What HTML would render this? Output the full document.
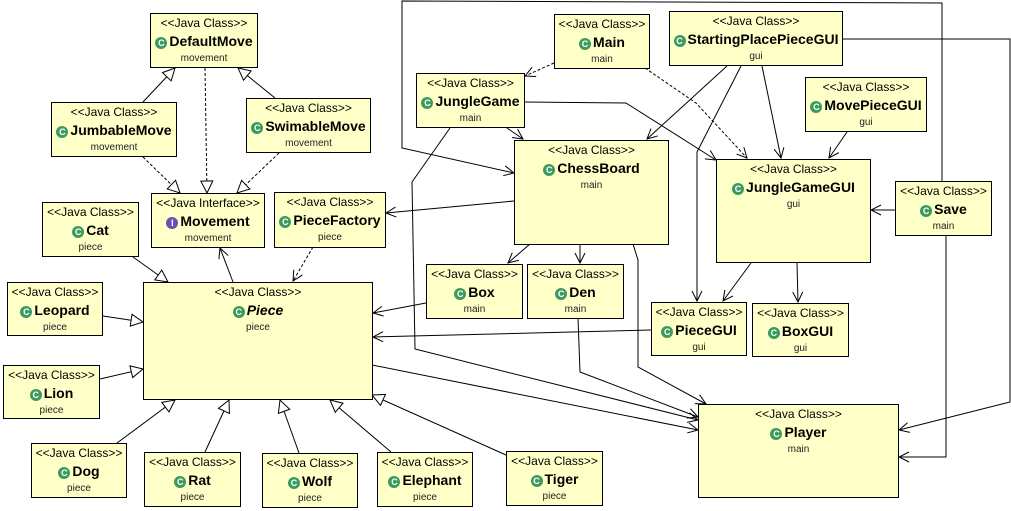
<!DOCTYPE html>
<html><head><meta charset="utf-8"><style>
body{margin:0;width:1011px;height:511px;background:#fff;position:relative;overflow:hidden;font-family:"Liberation Sans",Arial,sans-serif}
svg{position:absolute;left:0;top:0}
.b{position:absolute;box-sizing:border-box;border:1px solid #000;background:#ffffc8;text-align:center;color:#000}
.s{font-size:12px;line-height:14px;margin-top:2px}
.n{font-size:14px;font-weight:bold;line-height:22px;white-space:nowrap}
.p{font-size:10px;line-height:14px;color:#222}
.i{display:inline-block;width:12px;height:12px;border-radius:50%;background:#3d9a5e;color:#fff;font-size:9px;line-height:12px;font-weight:bold;vertical-align:0px;margin-right:2px;text-align:center}
.iv{background:#6b4fb5}
</style></head><body>
<svg width="1011" height="511">
<defs>
<marker id="t" viewBox="0 0 14 14" refX="13" refY="7" markerWidth="14" markerHeight="14" markerUnits="userSpaceOnUse" orient="auto"><path d="M1,1 L13,7 L1,13 Z" fill="#fff" stroke="#000"/></marker>
<marker id="a" viewBox="0 0 12 12" refX="11" refY="6" markerWidth="12" markerHeight="12" markerUnits="userSpaceOnUse" orient="auto"><path d="M1,1 L11,6 L1,11" fill="none" stroke="#000"/></marker>
</defs>
<g stroke="#000" fill="none" stroke-width="1">
<line x1="143" y1="102" x2="175" y2="68" marker-end="url(#t)"/>
<line x1="275" y1="98" x2="238" y2="68" marker-end="url(#t)"/>
<line x1="205" y1="68" x2="207" y2="193" stroke-dasharray="3,2" marker-end="url(#t)"/>
<line x1="143" y1="157" x2="180" y2="193" stroke-dasharray="3,2" marker-end="url(#t)"/>
<line x1="279" y1="153" x2="237" y2="193" stroke-dasharray="3,2" marker-end="url(#t)"/>
<line x1="233" y1="282" x2="220" y2="248" marker-end="url(#a)"/>
<line x1="313" y1="247" x2="293" y2="281" stroke-dasharray="3,2" marker-end="url(#a)"/>
<line x1="514" y1="201" x2="386" y2="213" marker-end="url(#a)"/>
<line x1="133" y1="257" x2="168" y2="282" marker-end="url(#t)"/>
<line x1="103" y1="316" x2="143" y2="322" marker-end="url(#t)"/>
<line x1="100" y1="379" x2="143" y2="369" marker-end="url(#t)"/>
<line x1="117" y1="443" x2="175" y2="400" marker-end="url(#t)"/>
<line x1="205" y1="452" x2="229" y2="400" marker-end="url(#t)"/>
<line x1="299" y1="453" x2="280" y2="400" marker-end="url(#t)"/>
<line x1="391" y1="452" x2="330" y2="400" marker-end="url(#t)"/>
<line x1="506" y1="455" x2="372" y2="395" marker-end="url(#t)"/>
<line x1="426" y1="303" x2="373" y2="313" marker-end="url(#a)"/>
<line x1="651" y1="330" x2="373" y2="337" marker-end="url(#a)"/>
<line x1="372" y1="365" x2="698" y2="430" marker-end="url(#a)"/>
<polyline points="450,128 412,182 415,349 698,420" marker-end="url(#a)"/>
<polyline points="578,318 580,372 698,417" marker-end="url(#a)"/>
<polyline points="633,244 638,260 638,367 706,404" marker-end="url(#a)"/>
<line x1="530" y1="244" x2="508" y2="263" marker-end="url(#a)"/>
<line x1="580" y1="244" x2="580" y2="263" marker-end="url(#a)"/>
<line x1="507" y1="128" x2="523" y2="139" marker-end="url(#a)"/>
<polyline points="524,102 626,103 716,160" marker-end="url(#a)"/>
<line x1="554" y1="63" x2="525" y2="76" stroke-dasharray="3,2" marker-end="url(#a)"/>
<polyline points="645,68 696,103 747,158" stroke-dasharray="3,2" marker-end="url(#a)"/>
<line x1="727" y1="66" x2="647" y2="139" marker-end="url(#a)"/>
<polyline points="741,66 697,152 697,301" marker-end="url(#a)"/>
<line x1="762" y1="66" x2="781" y2="158" marker-end="url(#a)"/>
<polyline points="842,39 1010,39 1010,402 899,430" marker-end="url(#a)"/>
<line x1="847" y1="132" x2="829" y2="158" marker-end="url(#a)"/>
<line x1="895" y1="210" x2="871" y2="210" marker-end="url(#a)"/>
<polyline points="946,235 946,457 899,457" marker-end="url(#a)"/>
<polyline points="942,181 942,3 402,1 402,148 514,173" marker-end="url(#a)"/>
<line x1="751" y1="263" x2="723" y2="301" marker-end="url(#a)"/>
<line x1="797" y1="263" x2="798" y2="302" marker-end="url(#a)"/>
</g>
</svg>
<div class="b" style="left:150px;top:13px;width:108px;height:55px"><div class="s">&lt;&lt;Java Class&gt;&gt;</div><div class="n"><span class="i">C</span>DefaultMove</div><div class="p">movement</div></div>
<div class="b" style="left:51px;top:102px;width:126px;height:55px"><div class="s">&lt;&lt;Java Class&gt;&gt;</div><div class="n"><span class="i">C</span>JumbableMove</div><div class="p">movement</div></div>
<div class="b" style="left:246px;top:98px;width:125px;height:55px"><div class="s">&lt;&lt;Java Class&gt;&gt;</div><div class="n"><span class="i">C</span>SwimableMove</div><div class="p">movement</div></div>
<div class="b" style="left:151px;top:193px;width:114px;height:55px"><div class="s">&lt;&lt;Java Interface&gt;&gt;</div><div class="n"><span class="i iv">I</span>Movement</div><div class="p">movement</div></div>
<div class="b" style="left:274px;top:192px;width:112px;height:56px"><div class="s">&lt;&lt;Java Class&gt;&gt;</div><div class="n"><span class="i">C</span>PieceFactory</div><div class="p">piece</div></div>
<div class="b" style="left:42px;top:202px;width:97px;height:55px"><div class="s">&lt;&lt;Java Class&gt;&gt;</div><div class="n"><span class="i">C</span>Cat</div><div class="p">piece</div></div>
<div class="b" style="left:143px;top:282px;width:230px;height:118px"><div class="s">&lt;&lt;Java Class&gt;&gt;</div><div class="n"><span class="i">C</span><i>Piece</i></div><div class="p">piece</div></div>
<div class="b" style="left:7px;top:282px;width:96px;height:54px"><div class="s">&lt;&lt;Java Class&gt;&gt;</div><div class="n"><span class="i">C</span>Leopard</div><div class="p">piece</div></div>
<div class="b" style="left:3px;top:365px;width:97px;height:54px"><div class="s">&lt;&lt;Java Class&gt;&gt;</div><div class="n"><span class="i">C</span>Lion</div><div class="p">piece</div></div>
<div class="b" style="left:31px;top:443px;width:96px;height:55px"><div class="s">&lt;&lt;Java Class&gt;&gt;</div><div class="n"><span class="i">C</span>Dog</div><div class="p">piece</div></div>
<div class="b" style="left:144px;top:452px;width:97px;height:55px"><div class="s">&lt;&lt;Java Class&gt;&gt;</div><div class="n"><span class="i">C</span>Rat</div><div class="p">piece</div></div>
<div class="b" style="left:262px;top:453px;width:96px;height:55px"><div class="s">&lt;&lt;Java Class&gt;&gt;</div><div class="n"><span class="i">C</span>Wolf</div><div class="p">piece</div></div>
<div class="b" style="left:377px;top:452px;width:96px;height:55px"><div class="s">&lt;&lt;Java Class&gt;&gt;</div><div class="n"><span class="i">C</span>Elephant</div><div class="p">piece</div></div>
<div class="b" style="left:506px;top:451px;width:97px;height:55px"><div class="s">&lt;&lt;Java Class&gt;&gt;</div><div class="n"><span class="i">C</span>Tiger</div><div class="p">piece</div></div>
<div class="b" style="left:554px;top:14px;width:96px;height:55px"><div class="s">&lt;&lt;Java Class&gt;&gt;</div><div class="n"><span class="i">C</span>Main</div><div class="p">main</div></div>
<div class="b" style="left:669px;top:11px;width:174px;height:55px"><div class="s">&lt;&lt;Java Class&gt;&gt;</div><div class="n"><span class="i">C</span>StartingPlacePieceGUI</div><div class="p">gui</div></div>
<div class="b" style="left:416px;top:73px;width:109px;height:55px"><div class="s">&lt;&lt;Java Class&gt;&gt;</div><div class="n"><span class="i">C</span>JungleGame</div><div class="p">main</div></div>
<div class="b" style="left:514px;top:140px;width:155px;height:105px"><div class="s">&lt;&lt;Java Class&gt;&gt;</div><div class="n"><span class="i">C</span>ChessBoard</div><div class="p">main</div></div>
<div class="b" style="left:805px;top:77px;width:122px;height:55px"><div class="s">&lt;&lt;Java Class&gt;&gt;</div><div class="n"><span class="i">C</span>MovePieceGUI</div><div class="p">gui</div></div>
<div class="b" style="left:716px;top:159px;width:155px;height:104px"><div class="s">&lt;&lt;Java Class&gt;&gt;</div><div class="n"><span class="i">C</span>JungleGameGUI</div><div class="p">gui</div></div>
<div class="b" style="left:895px;top:181px;width:97px;height:55px"><div class="s">&lt;&lt;Java Class&gt;&gt;</div><div class="n"><span class="i">C</span>Save</div><div class="p">main</div></div>
<div class="b" style="left:426px;top:264px;width:97px;height:55px"><div class="s">&lt;&lt;Java Class&gt;&gt;</div><div class="n"><span class="i">C</span>Box</div><div class="p">main</div></div>
<div class="b" style="left:527px;top:264px;width:97px;height:55px"><div class="s">&lt;&lt;Java Class&gt;&gt;</div><div class="n"><span class="i">C</span>Den</div><div class="p">main</div></div>
<div class="b" style="left:651px;top:302px;width:96px;height:54px"><div class="s">&lt;&lt;Java Class&gt;&gt;</div><div class="n"><span class="i">C</span>PieceGUI</div><div class="p">gui</div></div>
<div class="b" style="left:752px;top:303px;width:97px;height:54px"><div class="s">&lt;&lt;Java Class&gt;&gt;</div><div class="n"><span class="i">C</span>BoxGUI</div><div class="p">gui</div></div>
<div class="b" style="left:698px;top:404px;width:201px;height:94px"><div class="s">&lt;&lt;Java Class&gt;&gt;</div><div class="n"><span class="i">C</span>Player</div><div class="p">main</div></div>
</body></html>
